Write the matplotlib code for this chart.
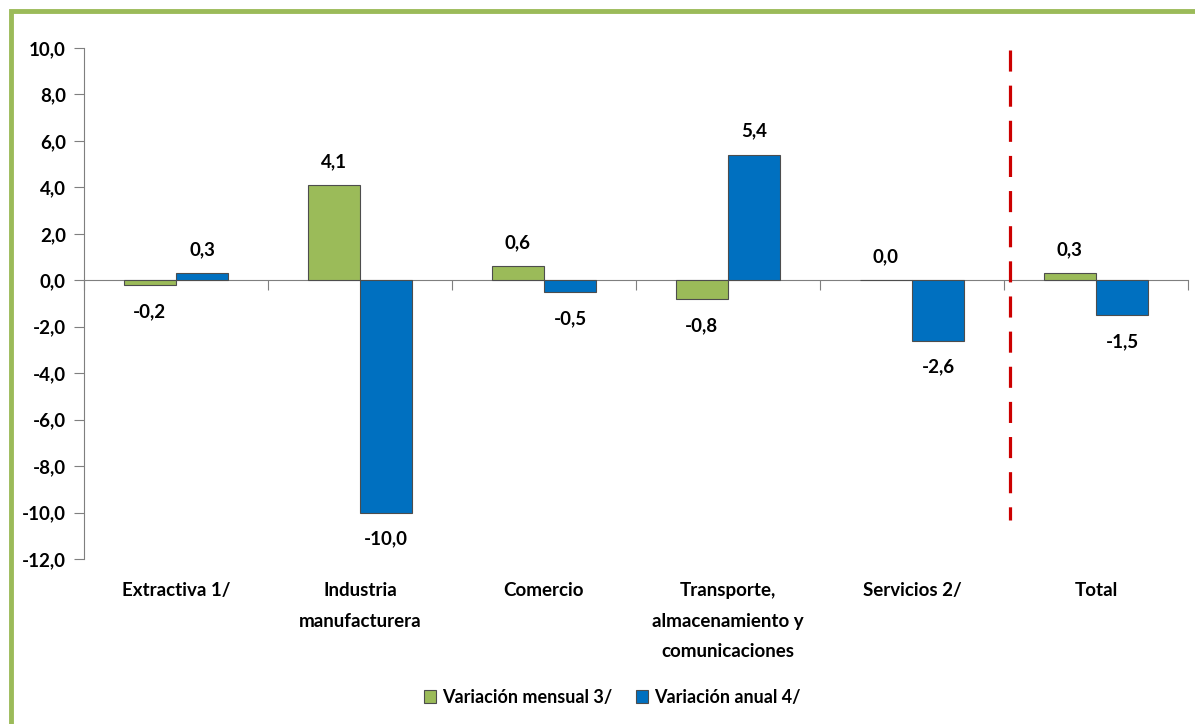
import matplotlib
matplotlib.use("Agg")
import matplotlib.pyplot as plt
from matplotlib.patches import Rectangle
import numpy as np

categories = ["Extractiva 1/", "Industria\nmanufacturera", "Comercio",
              "Transporte,\nalmacenamiento y\ncomunicaciones", "Servicios 2/", "Total"]
mensual = [-0.2, 4.1, 0.6, -0.8, 0.0, 0.3]
anual = [0.3, -10.0, -0.5, 5.4, -2.6, -1.5]
series_names = ["Variación mensual 3/", "Variación anual 4/"]
yticks = [10, 8, 6, 4, 2, 0, -2, -4, -6, -8, -10, -12]

plt.rcParams['font.family'] = ['Lato', 'DejaVu Sans']
plt.rcParams['font.weight'] = 'bold'

GREEN = "#9BBB59"
BLUE = "#0070C0"

fig = plt.figure(figsize=(11.95, 7.24), dpi=100)
W, H = 1195, 724
fig.patches.append(Rectangle((10.5 / W, -0.1), 1.2, (H - 10.5) / H + 0.1,
                             transform=fig.transFigure, fill=False,
                             edgecolor=GREEN, linewidth=3.5, zorder=0))

ax = fig.add_axes([84 / W, 1 - 559 / H, (1188 - 84) / W, (559 - 48) / H])
x = np.arange(len(categories))
bw = 0.285
b1 = ax.bar(x - bw / 2, mensual, bw, color=GREEN, edgecolor="#4d4d4d", linewidth=0.8,
            label=series_names[0], zorder=3)
b2 = ax.bar(x + bw / 2, anual, bw, color=BLUE, edgecolor="#4d4d4d", linewidth=0.8,
            label=series_names[1], zorder=3)

def fmt(v):
    return f"{v:.1f}".replace(".", ",")

for xs, vals in ((x - bw / 2, mensual), (x + bw / 2, anual)):
    for xi, v in zip(xs, vals):
        if v >= 0:
            ax.annotate(fmt(v), (xi, v), xytext=(0, 11), textcoords="offset points",
                        ha="center", va="bottom", fontsize=13.5, fontweight="bold")
        else:
            ax.annotate(fmt(v), (xi, v), xytext=(0, -13), textcoords="offset points",
                        ha="center", va="top", fontsize=13.5, fontweight="bold")

ax.set_xlim(-0.5, len(categories) - 0.5)
ax.set_ylim(-12, 10)
ax.set_yticks(yticks)
ax.set_yticklabels([fmt(float(t)) for t in yticks], fontsize=13.5, fontweight="bold")
ax.tick_params(axis="y", direction="out", length=7, color="#7f7f7f", pad=6)

for s in ("top", "right"):
    ax.spines[s].set_visible(False)
ax.spines["left"].set_color("#7f7f7f")
ax.spines["bottom"].set_position(("data", 0))
ax.spines["bottom"].set_color("#7f7f7f")
ax.set_xticks(np.arange(len(categories) + 1) - 0.5)
ax.set_xticklabels([])
ax.tick_params(axis="x", direction="out", length=7, color="#7f7f7f")

for xi, c in zip(x, categories):
    ax.text(xi, -13.0, c, ha="center", va="top", fontsize=13.5, fontweight="bold",
            linespacing=1.95)

ax.plot([4.53, 4.53], [9.9, -10.3], color="#cc0000", linewidth=2.3,
        dashes=(6.6, 4.4), zorder=4, solid_capstyle="butt")

leg = fig.legend(handles=[b1, b2], loc="center", bbox_to_anchor=(612 / W, 1 - 697 / H),
                 ncol=2, frameon=False, fontsize=13, handlelength=0.7,
                 handleheight=0.7, handletextpad=0.3, columnspacing=1.3)
for t in leg.get_texts():
    t.set_fontweight("bold")

fig.savefig("out.png", dpi=100)
